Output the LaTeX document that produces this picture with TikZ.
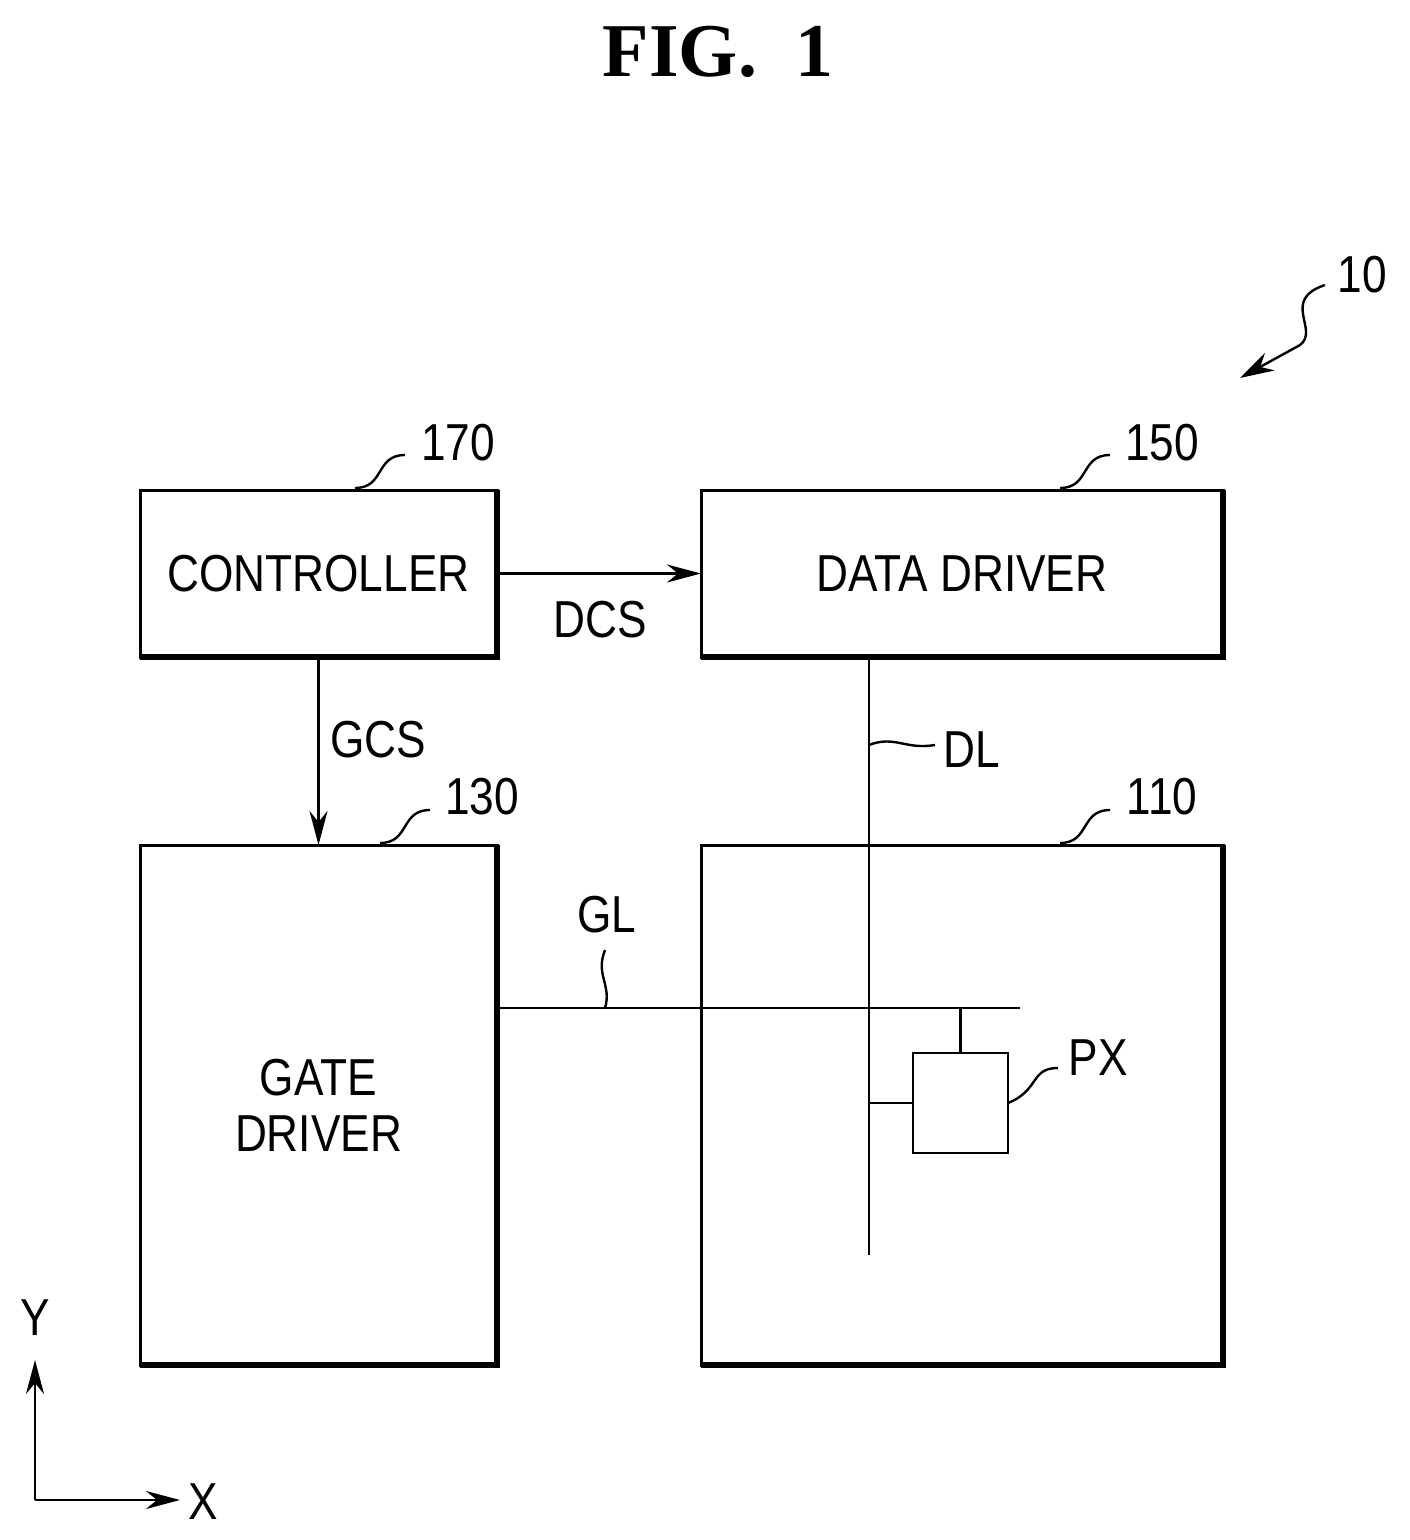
\documentclass[tikz,border=0pt]{standalone}
\usepackage{fontspec}
\setmainfont{Liberation Sans}
\newfontfamily\titlefont{Liberation Serif}
\usetikzlibrary{arrows.meta}
\begin{document}
\begin{tikzpicture}[x=0.5pt,y=-0.5pt,
  blk/.style={draw,line width=1.5pt,inner sep=0pt,outer sep=0pt},
  lbl/.style={inner sep=0pt,font=\fontsize{26}{28}\selectfont,xscale=0.85},
  wire/.style={line width=1.4pt},
  arr/.style={wire,-{Stealth[length=17pt,width=9pt]}},
  sq/.style={line width=1.2pt},
  shade/.style={line width=2.6pt}]
\path[use as bounding box] (0,0) rectangle (1409,1540);
\node[inner sep=0pt,font=\titlefont\bfseries\fontsize{38}{40}\selectfont] (title) at (718,52) {FIG.\ \ 1};

% blocks
\node[blk,minimum width=178.5pt,minimum height=83.5pt] (ctrl) at (318.5,573.5) {};
\node[lbl] at (ctrl) {CONTROLLER};
\node[blk,minimum width=261pt,minimum height=83.5pt] (data) at (962,573.5) {};
\node[lbl] at (data) {DATA DRIVER};
\node[blk,minimum width=178.5pt,minimum height=260pt] (gate) at (318.5,1105) {};
\node[lbl,align=center] at (gate) {GATE\\DRIVER};
\node[blk,minimum width=261pt,minimum height=260pt] (panel) at (962,1105) {};
\node[blk,line width=1.3pt,minimum width=47.5pt,minimum height=50pt] (px) at (960.5,1103) {};
\foreach \b in {ctrl,data,gate,panel}
  \draw[shade] (\b.north east) -- (\b.south east) -- (\b.south west);

% reference numerals
\node[lbl] (n170) at (458,443) {170};
\node[lbl] (n150) at (1162,443) {150};
\node[lbl] (n130) at (482,797) {130};
\node[lbl] (n110) at (1162,797) {110};
\node[lbl] (n10) at (1362,275) {10};
\draw[sq] (355,488) .. controls (385,488) and (375,455) .. (405,455);
\draw[sq] (1060,488) .. controls (1090,488) and (1080,455) .. (1110,455);
\draw[sq] (380,843) .. controls (410,843) and (400,810) .. (430,810);
\draw[sq] (1060,843) .. controls (1090,843) and (1080,810) .. (1110,810);
\coordinate (sys) at (1240,378);
\draw[sq,-{Stealth[length=17pt,width=10pt]}] (1325,285) .. controls (1280,300) and (1320,330) .. (1300,345) -- (sys);

% signals
\draw[arr] (ctrl.east) -- (data.west);
\node[lbl] (dcs) at (600,620) {DCS};
\draw[arr] (ctrl.south) -- (gate.north);
\node[lbl] (gcs) at (378,740) {GCS};

\coordinate (dltop) at (869,657);
\coordinate (dlend) at (869,1255);
\draw[wire] (dltop) -- (dlend);
\node[lbl] (dl) at (972,750) {DL};
\draw[sq] (869,745) .. controls (895,735) and (905,750) .. (935,745);

\coordinate (glend) at (1020,1008);
\draw[wire] (gate.east |- glend) -- (glend);
\node[lbl] (gl) at (607,915) {GL};
\draw[sq] (605,950) .. controls (595,975) and (612,985) .. (605,1008);

\draw[wire] (px.north) -- (px.north |- glend);
\draw[wire] (px.west) -- (dltop |- px.west);
\node[lbl] (pxl) at (1098,1058) {PX};
\draw[sq] (px.east) .. controls (1040,1090) and (1030,1068) .. (1058,1068);

% axes
\coordinate (o) at (35,1500);
\coordinate (yend) at (35,1360);
\coordinate (xend) at (180,1500);
\draw[arr] (o) -- (yend);
\draw[arr] (o) -- (xend);
\node[lbl] (ylbl) at (35,1318) {Y};
\node[lbl] (xlbl) at (203,1502) {X};
\end{tikzpicture}
\end{document}
